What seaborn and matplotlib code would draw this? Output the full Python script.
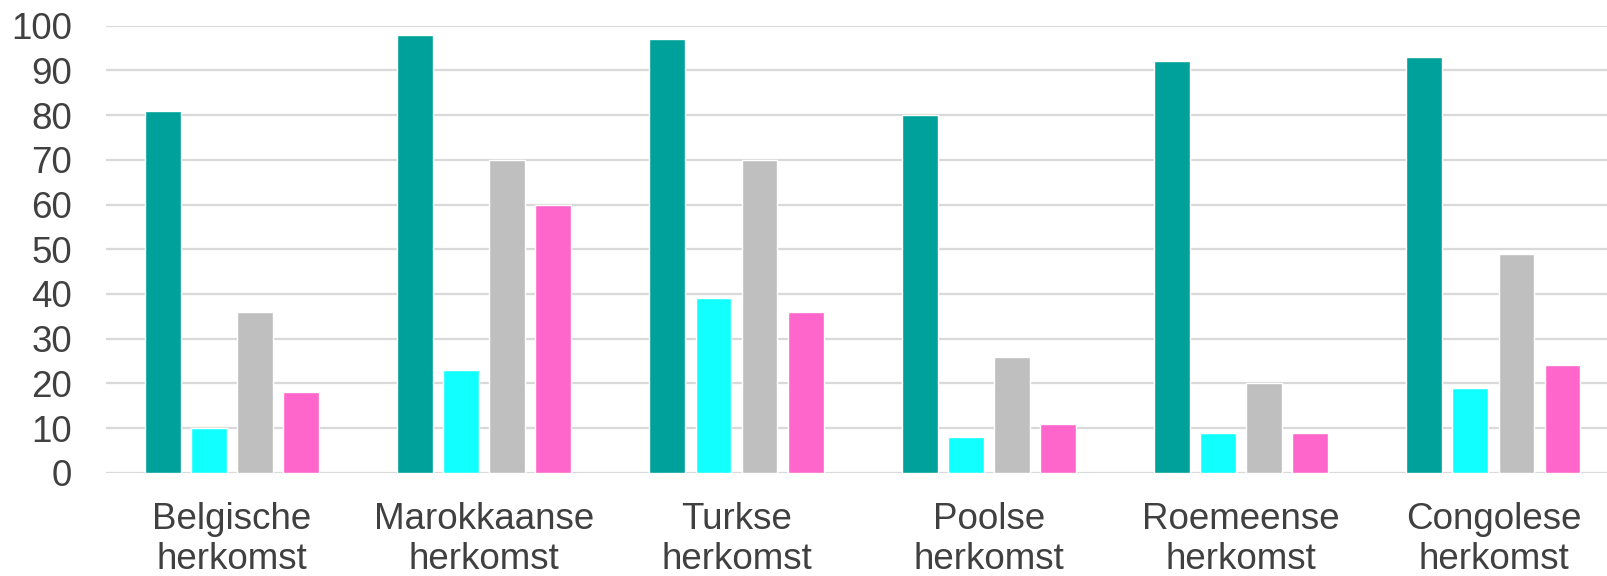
import matplotlib
matplotlib.use("Agg")
import matplotlib.pyplot as plt
import seaborn as sns
import pandas as pd

# categories and the four series
categories = ["Belgische\nherkomst", "Marokkaanse\nherkomst", "Turkse\nherkomst",
              "Poolse\nherkomst", "Roemeense\nherkomst", "Congolese\nherkomst"]
series_names = ["reeks 1", "reeks 2", "reeks 3", "reeks 4"]
reeks_1 = [81, 98, 97, 80, 92, 93]
reeks_2 = [10, 23, 39, 8, 9, 19]
reeks_3 = [36, 70, 70, 26, 20, 49]
reeks_4 = [18, 60, 36, 11, 9, 24]
colors = ["#00A19A", "#12FFFF", "#BFBFBF", "#FF66CC"]

rows = []
for name, vals in zip(series_names, [reeks_1, reeks_2, reeks_3, reeks_4]):
    for cat, v in zip(categories, vals):
        rows.append({"categorie": cat, "reeks": name, "waarde": v})
df = pd.DataFrame(rows)

sns.set_theme(style="white")
plt.rcParams["font.family"] = ["Liberation Sans", "DejaVu Sans"]

fig = plt.figure(figsize=(16.07, 5.76), dpi=100)
ax = fig.add_axes([105.7 / 1607, 1 - 472.8 / 576, 1 - 105.7 / 1607, (472.8 - 25.7) / 576])

sns.barplot(data=df, x="categorie", y="waarde", hue="reeks", order=categories,
            hue_order=series_names, palette=colors, width=0.73, gap=0.22,
            saturation=1, legend=False, ax=ax)

ax.set_ylim(0, 100)
ax.set_xlim(-0.5, 5.45)
ax.set_yticks(range(0, 101, 10))
ax.yaxis.grid(True, color="#D9D9D9", linewidth=1.6)
ax.set_axisbelow(True)
for s in ax.spines.values():
    s.set_visible(False)
ax.set_xlabel("")
ax.set_ylabel("")
ax.tick_params(axis="both", length=0, labelsize=26.5, colors="#404040")
ax.tick_params(axis="x", pad=21)
ax.tick_params(axis="y", pad=24)
for lbl in ax.get_xticklabels():
    lbl.set_linespacing(1.2)

fig.savefig("out.png", dpi=100)
